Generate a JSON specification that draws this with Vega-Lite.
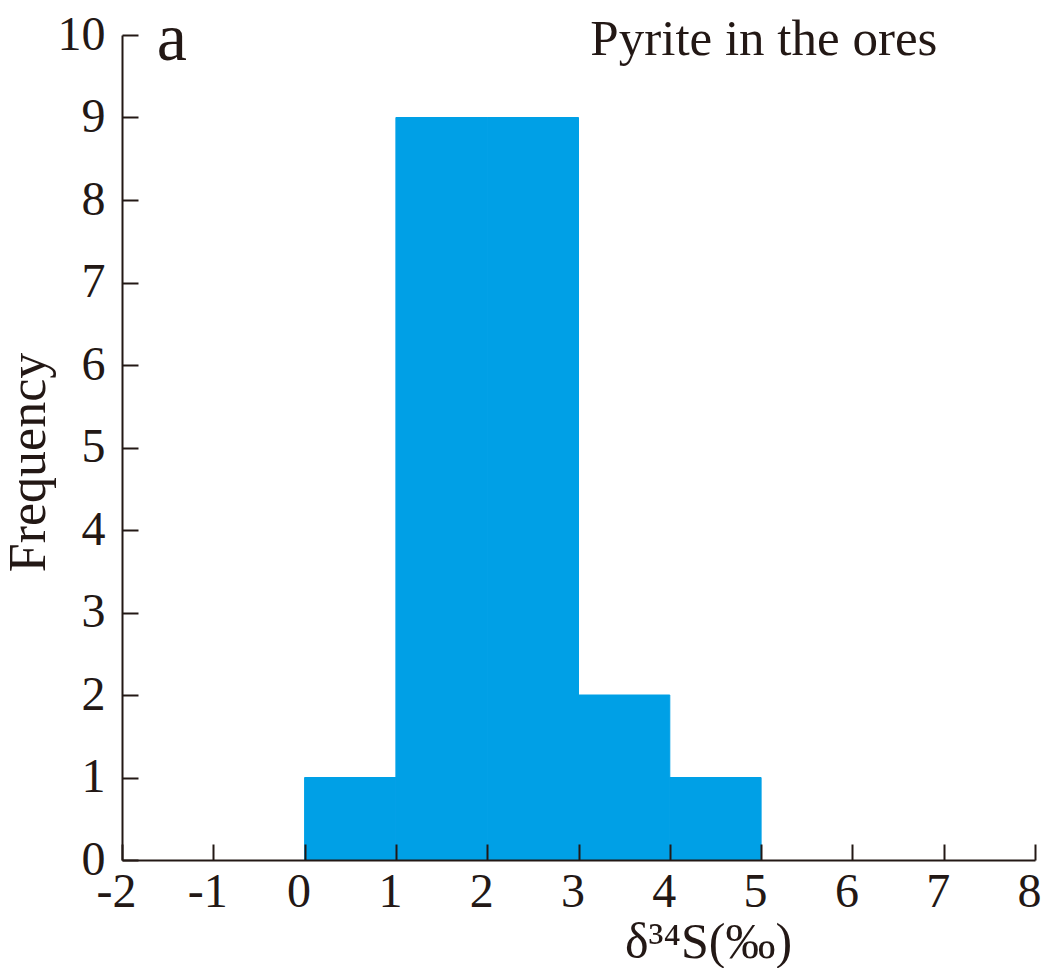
{
  "$schema": "https://vega.github.io/schema/vega-lite/v6.json",
  "width": 913,
  "height": 825,
  "autosize": "none",
  "padding": {"left": 122, "top": 35, "right": 7, "bottom": 108},
  "background": "white",
  "config": {"view": {"stroke": null}, "font": "Liberation Serif"},
  "layer": [
    {
      "data": {"values": [
        {"start": 0, "end": 1, "frequency": 1},
        {"start": 1, "end": 2, "frequency": 9},
        {"start": 2, "end": 3, "frequency": 9},
        {"start": 3, "end": 4, "frequency": 2},
        {"start": 4, "end": 5, "frequency": 1}
      ]},
      "mark": {"type": "rect", "color": "#00A0E6", "stroke": "#00A0E6", "strokeWidth": 1},
      "encoding": {
        "x": {"field": "start", "type": "quantitative",
          "scale": {"domain": [-2, 8], "nice": false, "zero": false},
          "axis": {"values": [-2, -1, 0, 1, 2, 3, 4, 5, 6, 7, 8], "grid": false, "zindex": 1,
            "labelExpr": "'' + datum.value",
            "tickSize": -16, "tickWidth": 2, "tickColor": "#231815",
            "domainWidth": 2, "domainColor": "#231815",
            "labelFontSize": 48, "labelColor": "#231815", "labelPadding": 62, "labelBaseline": "alphabetic", "labelOffset": -6,
            "labelFlush": false, "labelOverlap": false, "labelBound": false,
            "title": "δ³⁴S(‰)", "titleFontSize": 50, "titleFontWeight": "normal", "titleColor": "#231815",
            "titleX": 586, "titleY": 97, "titleBaseline": "alphabetic", "titleAlign": "center", "titleAnchor": null}},
        "x2": {"field": "end"},
        "y": {"field": "frequency", "type": "quantitative",
          "scale": {"domain": [0, 10], "nice": false},
          "axis": {"values": [0, 1, 2, 3, 4, 5, 6, 7, 8, 9, 10], "grid": false, "zindex": 1,
            "labelExpr": "'' + datum.value",
            "tickSize": -16, "tickWidth": 2, "tickColor": "#231815",
            "domainWidth": 2, "domainColor": "#231815",
            "labelFontSize": 48, "labelColor": "#231815", "labelPadding": 33, "labelBaseline": "middle",
            "labelFlush": false, "labelOverlap": false, "labelBound": false,
            "title": "Frequency", "titleFontSize": 52, "titleFontWeight": "normal", "titleColor": "#231815",
            "titleAngle": -90, "titleX": -78, "titleY": 427, "titleBaseline": "alphabetic", "titleAlign": "center"}},
        "y2": {"datum": 0}
      }
    },
    {
      "data": {"values": [{}]},
      "mark": {"type": "text", "text": "a", "fontSize": 68, "align": "left", "baseline": "alphabetic", "color": "#231815"},
      "encoding": {"x": {"datum": -1.62, "type": "quantitative"}, "y": {"datum": 9.7, "type": "quantitative"}}
    },
    {
      "data": {"values": [{}]},
      "mark": {"type": "text", "text": "Pyrite in the ores", "fontSize": 51, "align": "left", "baseline": "alphabetic", "color": "#231815"},
      "encoding": {"x": {"datum": 3.13, "type": "quantitative"}, "y": {"datum": 9.76, "type": "quantitative"}}
    }
  ]
}
